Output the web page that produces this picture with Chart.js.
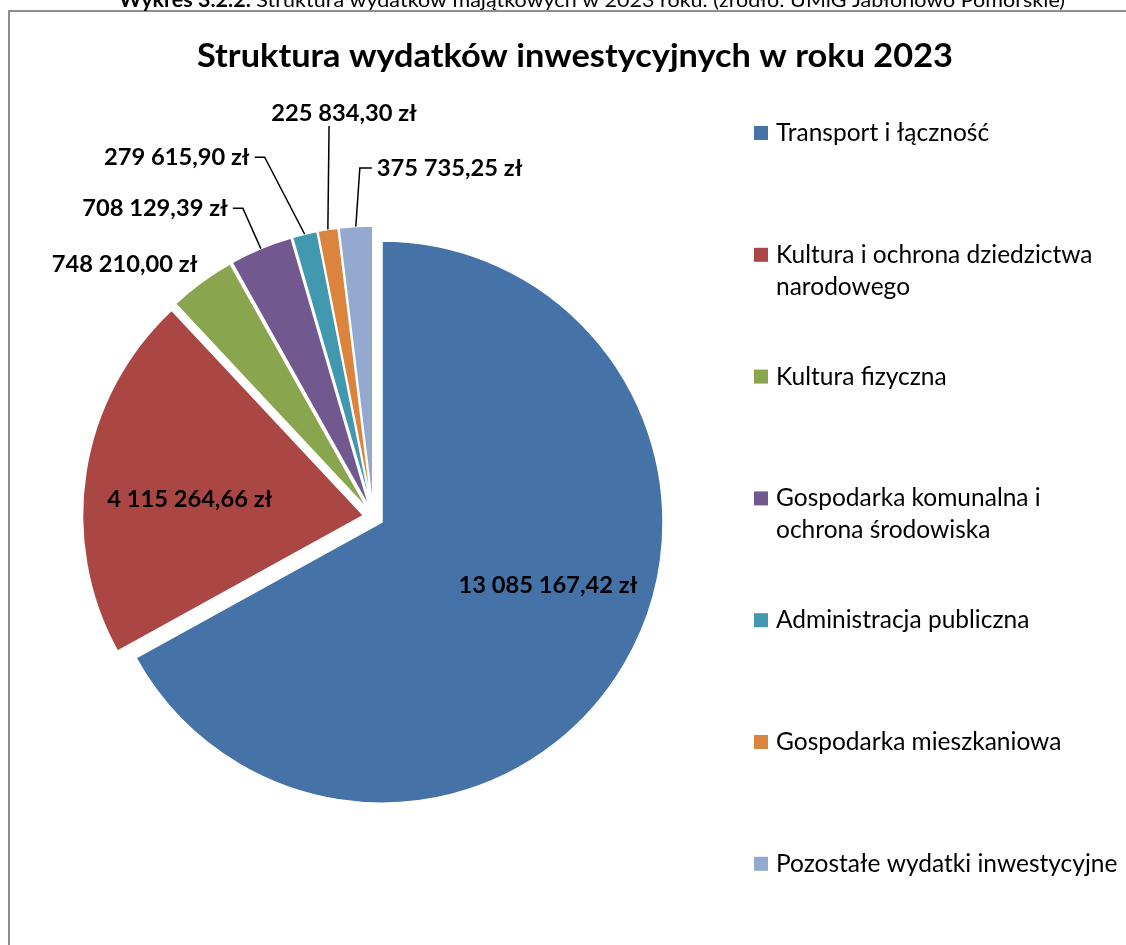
<!DOCTYPE html>
<html>
<head>
<meta charset="utf-8">
<script src="https://cdn.jsdelivr.net/npm/chart.js@4.4.0/dist/chart.umd.min.js"></script>
<style>
  html, body { margin: 0; padding: 0; background: #fff; }
  #wrap { width: 1126px; height: 945px; position: relative; }
</style>
</head>
<body>
<div id="wrap"><canvas id="pie"></canvas></div>
<script>
// data
const categories = [
  'Transport i łączność',
  ['Kultura i ochrona dziedzictwa', 'narodowego'],
  'Kultura fizyczna',
  ['Gospodarka komunalna i', 'ochrona środowiska'],
  'Administracja publiczna',
  'Gospodarka mieszkaniowa',
  'Pozostałe wydatki inwestycyjne'
];
const values = [13085167.42, 4115264.66, 748210.00, 708129.39, 279615.90, 225834.30, 375735.25];
const colors = ['#4572a7', '#aa4643', '#89a54e', '#71588f', '#4198af', '#db843d', '#93a9cf'];

const captionBold = 'Wykres 3.2.2.';
const captionRest = ' Struktura wydatków majątkowych w 2023 roku. (źródło: UMiG Jabłonowo Pomorskie)';
const titleText = 'Struktura wydatków inwestycyjnych w roku 2023';

// every slice pulled out a little (Excel style explosion), px
const EXPLODE = 10;

// where each value label sits, relative to its slice
const labelLayout = [
  { dx: 45, dy: -8 },
  { dx: -35, dy: 6 },
  { out: true, text: [-77, -18] },
  { out: true, elbow: [-18, -40.5], tail: -10, align: 'right' },
  { out: true, elbow: [-40, -77], tail: -10, align: 'right' },
  { out: true, elbow: [1.2, -103.5], tail: 0, text: [15, -13] },
  { out: true, elbow: [4, -58.5], tail: 12, align: 'left' }
];

const FONT = 'Lato, "Open Sans", sans-serif';

function fmtZl(v) {
  const parts = v.toFixed(2).split('.');
  return parts[0].replace(/\B(?=(\d{3})+(?!\d))/g, ' ') + ',' + parts[1] + ' zł';
}

// draw text squeezed/stretched to a given width
function fitText(ctx, pieces, x, y, width) {
  let total = 0;
  pieces.forEach(p => { ctx.font = p.font; p.w = ctx.measureText(p.t).width; total += p.w; });
  const s = width / total;
  ctx.save();
  ctx.translate(x, y);
  ctx.scale(s, 1);
  let cx = 0;
  pieces.forEach(p => { ctx.font = p.font; ctx.fillText(p.t, cx, 0); cx += p.w; });
  ctx.restore();
}

function midAngle(el) {
  return (el.startAngle + el.endAngle) / 2;
}

const decor = {
  id: 'decor',
  beforeDraw(chart) {
    const ctx = chart.ctx;
    ctx.save();
    ctx.fillStyle = '#fff';
    ctx.fillRect(0, 0, chart.width, chart.height);
    // frame
    ctx.strokeStyle = '#8e8e8e';
    ctx.lineWidth = 2;
    ctx.beginPath();
    ctx.moveTo(9, 945); ctx.lineTo(9, 11); ctx.lineTo(1126, 11);
    ctx.stroke();
    // caption above the frame (cut by the page top)
    ctx.fillStyle = '#000';
    ctx.textBaseline = 'alphabetic';
    ctx.textAlign = 'left';
    fitText(ctx, [
      { t: captionBold, font: 'bold 20px ' + FONT },
      { t: captionRest, font: '20px ' + FONT }
    ], 119, 7, 946);
    // title
    fitText(ctx, [{ t: titleText, font: 'bold 32px ' + FONT }], 197, 67, 756);
    ctx.restore();
  },
  // draw the library's arcs, each shifted out along its mid angle
  beforeDatasetDraw(chart, args) {
    const ctx = chart.ctx;
    args.meta.data.forEach(el => {
      const m = midAngle(el);
      ctx.save();
      ctx.translate(Math.cos(m) * EXPLODE, Math.sin(m) * EXPLODE);
      el.draw(ctx);
      ctx.restore();
    });
    return false;
  },
  afterDatasetsDraw(chart) {
    const ctx = chart.ctx;
    const meta = chart.getDatasetMeta(0);
    ctx.save();
    ctx.fillStyle = '#000';
    ctx.strokeStyle = '#000';
    ctx.lineWidth = 1.5;
    ctx.font = 'bold 23.7px ' + FONT;
    ctx.textBaseline = 'middle';
    meta.data.forEach((el, i) => {
      const mid = midAngle(el);
      const cx = el.x + Math.cos(mid) * EXPLODE;
      const cy = el.y + Math.sin(mid) * EXPLODE;
      const R = el.outerRadius;
      const lay = labelLayout[i];
      const txt = fmtZl(values[i]);
      if (!lay.out) {
        ctx.textAlign = 'center';
        ctx.fillText(txt, cx + Math.cos(mid) * R / 2 + lay.dx, cy + Math.sin(mid) * R / 2 + lay.dy);
        return;
      }
      const ax = cx + Math.cos(mid) * R;
      const ay = cy + Math.sin(mid) * R;
      if (!lay.elbow) {
        ctx.textAlign = 'center';
        ctx.fillText(txt, ax + lay.text[0], ay + lay.text[1]);
        return;
      }
      const ex = ax + lay.elbow[0], ey = ay + lay.elbow[1];
      const tx = ex + lay.tail;
      ctx.beginPath();
      ctx.moveTo(ax, ay); ctx.lineTo(ex, ey); ctx.lineTo(tx, ey);
      ctx.stroke();
      if (lay.text) {
        ctx.textAlign = 'center';
        ctx.fillText(txt, ex + lay.text[0], ey + lay.text[1]);
      } else {
        ctx.textAlign = lay.align;
        ctx.fillText(txt, tx + (lay.align === 'right' ? -5 : 5), ey);
      }
    });

    // legend
    ctx.font = '24.5px ' + FONT;
    ctx.textAlign = 'left';
    categories.forEach((c, i) => {
      const yc = 133 + i * 121.8;
      ctx.fillStyle = colors[i];
      ctx.fillRect(754, yc - 7, 14, 14);
      ctx.fillStyle = '#000';
      const lines = Array.isArray(c) ? c : [c];
      lines.forEach((ln, j) => ctx.fillText(ln, 776, yc + j * 32));
    });
    ctx.restore();
  }
};

new Chart(document.getElementById('pie'), {
  type: 'pie',
  data: {
    labels: categories,
    datasets: [{
      data: values,
      backgroundColor: colors,
      borderColor: '#fff',
      borderWidth: 1.5
    }]
  },
  options: {
    responsive: true,
    maintainAspectRatio: false,
    animation: false,
    radius: 281,
    layout: { padding: { left: 61.4, right: 440.6, top: 207, bottom: 118 } },
    plugins: {
      legend: { display: false },
      title: { display: false },
      tooltip: { enabled: false }
    }
  },
  plugins: [decor]
});
</script>
</body>
</html>
